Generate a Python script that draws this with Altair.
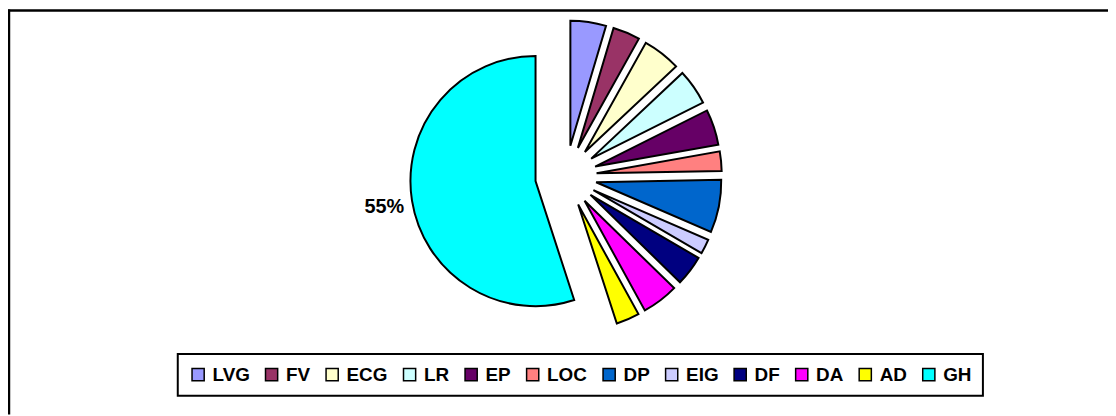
import altair as alt
import pandas as pd

categories = ["LVG", "FV", "ECG", "LR", "EP", "LOC", "DP", "EIG", "DF", "DA", "AD", "GH"]
values = [4.6, 3.5, 4.9, 4.6, 4.6, 2.5, 6.8, 1.9, 3.9, 4.7, 3.0, 55.0]
colors = ["#9999FF", "#993366", "#FFFFCC", "#CCFFFF", "#660066", "#FF8080",
          "#0066CC", "#CCCCFF", "#000080", "#FF00FF", "#FFFF00", "#00FFFF"]

df = pd.DataFrame({"cat": categories, "v": values, "order": list(range(len(categories)))})

CX, CY, EXPLODE, R = 562, 168, 31, 126
FONT = "Liberation Sans"

base = (
    alt.Chart(df)
    .transform_joinaggregate(total="sum(v)")
    .transform_window(cum="sum(v)", sort=[alt.SortField("order")])
    .transform_calculate(
        t0="2*PI*(datum.cum - datum.v)/datum.total",
        t1="2*PI*datum.cum/datum.total",
    )
    .transform_calculate(mid="(datum.t0 + datum.t1)/2")
    .transform_calculate(
        px=f"{CX} + {EXPLODE}*sin(datum.mid)",
        py=f"{CY} - {EXPLODE}*cos(datum.mid)",
    )
)

pie = base.mark_arc(outerRadius=R, stroke="black", strokeWidth=2).encode(
    theta=alt.Theta("t0:Q", scale=None),
    theta2="t1:Q",
    x=alt.X("px:Q", scale=None),
    y=alt.Y("py:Q", scale=None),
    color=alt.Color(
        "cat:N",
        scale=alt.Scale(domain=categories, range=colors),
        legend=alt.Legend(
            title=None,
            orient="none",
            legendX=171,
            legendY=347,
            direction="horizontal",
            columns=12,
            symbolType="square",
            symbolSize=150,
            symbolStrokeColor="black",
            symbolStrokeWidth=1.5,
            labelFont=FONT,
            labelFontWeight="bold",
            labelFontSize=19,
            labelColor="black",
            labelOffset=5,
            columnPadding=12,
            padding=11,
            strokeColor="black",
        ),
    ),
)

label = (
    base.transform_filter("datum.cat == 'GH'")
    .transform_calculate(
        lx=f"datum.px + {R + 8}*sin(datum.mid)",
        ly=f"datum.py - {R + 8}*cos(datum.mid)",
        lbl="round(100*datum.v/datum.total) + '%'",
    )
    .mark_text(align="right", baseline="middle", font=FONT, fontWeight="bold",
               fontSize=20, color="black", dy=5)
    .encode(x=alt.X("lx:Q", scale=None), y=alt.Y("ly:Q", scale=None), text="lbl:N")
)

one = pd.DataFrame({"a": [0]})
frame_v = alt.Chart(one).mark_rule(color="black", strokeWidth=2.5).encode(
    x=alt.value(1), y=alt.value(0), y2=alt.value(408))
frame_h = alt.Chart(one).mark_rule(color="black", strokeWidth=2.5).encode(
    y=alt.value(1), x=alt.value(0), x2=alt.value(1108))

chart = (
    alt.layer(frame_v, frame_h, pie, label)
    .properties(width=1108, height=408, autosize="none", padding=0)
    .configure_view(stroke=None)
    .configure_legend(strokeWidth=2)
)

chart.save("out.html", embed_options={"renderer": "svg", "actions": False})
